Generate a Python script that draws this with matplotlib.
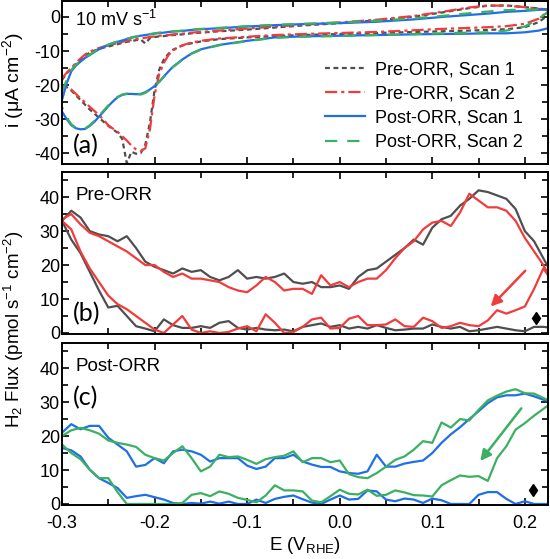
import numpy as np
import matplotlib
matplotlib.use("Agg")
import matplotlib.pyplot as plt
from matplotlib.ticker import MultipleLocator, FormatStrFormatter

plt.rcParams['font.family'] = ['Liberation Sans', 'DejaVu Sans']
plt.rcParams['mathtext.fontset'] = 'custom'
plt.rcParams['mathtext.rm'] = 'Liberation Sans'
plt.rcParams['mathtext.it'] = 'Liberation Sans:italic'
plt.rcParams['axes.unicode_minus'] = False

# ---- (a) cyclic voltammograms, 10 mV/s ----
cv_e = [-0.300, -0.295, -0.290, -0.285, -0.280, -0.275, -0.270, -0.265, -0.260, -0.255,
        -0.250, -0.245, -0.240, -0.235, -0.230, -0.225, -0.220, -0.215, -0.210, -0.205,
        -0.200, -0.195, -0.190, -0.185, -0.180, -0.170, -0.160, -0.150, -0.130, -0.100,
        -0.070, -0.040, 0.000, 0.040, 0.080, 0.110, 0.140, 0.160, 0.180, 0.200, 0.215, 0.225]

pre1_cv_up = [-18.5, -16.6, -15.2, -13.8, -12.5, -11.3, -10.5, -9.9, -9.4, -9.0,
              -8.7, -8.3, -8.0, -7.6, -7.3, -7.1, -6.8, -6.6, -7.8, -6.2,
              -5.9, -5.7, -5.6, -5.5, -5.3, -5.1, -4.8, -4.6, -4.2, -3.7,
              -3.1, -2.5, -1.8, -1.0, 0.1, 1.3, 2.6, 3.3, 3.4, 2.9, 2.5, 2.1]
pre1_cv_dn = [-19.5, -20.6, -21.6, -23.0, -24.4, -25.8, -27.2, -28.4, -29.6, -30.8,
              -32.0, -33.0, -34.0, -35.8, -43.0, -39.6, -40.2, -40.0, -37.5, -31.0,
              -21.5, -15.5, -12.5, -10.8, -9.6, -8.4, -7.7, -7.2, -6.5, -6.0,
              -5.6, -5.3, -5.0, -4.7, -4.4, -4.2, -4.0, -3.8, -3.6, -3.0, -1.5, 0.5]
pre2_cv_up = [-18.0, -16.4, -15.0, -13.5, -12.2, -11.0, -10.2, -9.6, -9.1, -8.7,
              -8.4, -8.0, -7.7, -7.3, -7.0, -6.8, -6.5, -6.3, -6.1, -5.9,
              -5.7, -5.5, -5.4, -5.3, -5.1, -4.9, -4.6, -4.4, -4.0, -3.4,
              -2.8, -2.3, -1.6, -0.8, 0.3, 1.5, 2.8, 3.4, 3.3, 2.9, 2.4, 2.0]
pre2_cv_dn = [-19.5, -20.4, -21.3, -22.6, -23.9, -25.1, -26.4, -27.6, -28.8, -30.3,
              -31.8, -32.8, -33.7, -35.0, -36.3, -37.8, -38.9, -39.4, -38.6, -33.0,
              -23.0, -16.8, -13.5, -11.2, -9.8, -8.3, -7.5, -7.0, -6.3, -5.8,
              -5.3, -5.0, -4.7, -4.4, -3.9, -3.5, -3.2, -3.0, -2.7, -2.0, -0.5, 1.6]
post1_cv_up = [-24.4, -19.5, -16.0, -14.3, -13.1, -12.0, -11.2, -10.3, -9.5, -8.8,
               -8.2, -7.7, -7.3, -6.9, -6.5, -6.1, -5.8, -5.5, -5.3, -5.1,
               -4.9, -4.7, -4.6, -4.4, -4.3, -4.1, -3.8, -3.6, -3.3, -2.8,
               -2.4, -2.1, -1.8, -1.4, -0.7, 0.0, 0.6, 1.0, 1.5, 1.8, 2.1, 2.3]
post1_cv_dn = [-27.8, -30.0, -31.8, -32.7, -33.0, -32.9, -32.0, -30.8, -29.3, -27.8,
               -26.2, -24.8, -23.6, -22.9, -22.6, -22.6, -22.7, -22.6, -22.1, -21.3,
               -20.3, -19.0, -17.5, -16.0, -14.6, -12.5, -10.7, -9.5, -8.2, -7.0,
               -6.0, -5.7, -5.5, -5.3, -5.1, -5.0, -4.9, -4.8, -4.8, -4.5, -4.0, -3.3]
post2_cv_up = [-22.0, -18.5, -15.6, -14.0, -12.9, -11.8, -11.0, -10.2, -9.4, -8.7,
               -8.1, -7.6, -7.2, -6.8, -6.4, -6.0, -5.7, -5.4, -5.2, -5.0,
               -4.8, -4.6, -4.5, -4.3, -4.2, -4.0, -3.7, -3.5, -3.2, -2.7,
               -2.3, -2.0, -1.6, -1.1, -0.4, 0.3, 1.1, 1.6, 2.0, 2.2, 2.2, 2.2]
post2_cv_dn = [-26.5, -29.5, -31.5, -32.6, -33.0, -32.8, -31.8, -30.5, -29.0, -27.5,
               -26.0, -24.6, -23.5, -22.8, -22.5, -22.5, -22.6, -22.8, -22.3, -21.4,
               -20.4, -19.1, -17.6, -16.1, -14.7, -12.6, -10.8, -9.6, -8.3, -7.1,
               -6.1, -5.8, -5.6, -5.3, -5.0, -4.8, -4.6, -4.5, -4.0, -2.8, -0.5, 1.5]

# ---- (b), (c) H2 flux, pmol s-1 cm-2 ----
flux_e = [-0.30, -0.29, -0.28, -0.27, -0.26, -0.25, -0.24, -0.23, -0.22, -0.21,
          -0.20, -0.19, -0.18, -0.17, -0.16, -0.15, -0.14, -0.13, -0.12, -0.11,
          -0.10, -0.09, -0.08, -0.07, -0.06, -0.05, -0.04, -0.03, -0.02, -0.01,
          0.00, 0.01, 0.02, 0.03, 0.04, 0.05, 0.06, 0.07, 0.08, 0.09,
          0.10, 0.11, 0.12, 0.13, 0.14, 0.15, 0.16, 0.17, 0.18, 0.19,
          0.20, 0.21, 0.22, 0.23]

pre1_up = [33, 36, 34, 30, 29, 28.5, 27, 28.5, 25, 21, 19.5, 18.5, 17.5, 19, 18, 18.5, 16.5, 15.5,
           16.5, 18.5, 16, 16.5, 16, 16.5, 17.5, 15, 14.5, 15, 13.5, 13.5, 14, 13, 16.5, 18.5, 19, 21,
           23, 25, 27.5, 26, 31, 33.5, 34.5, 37.5, 39.5, 42, 41.5, 40.5, 39.5, 36.5, 30, 27, 22, 17]
pre1_dn = [33, 27.5, 23.5, 18, 12.5, 7.5, 8, 5, 2, 1.3, 0.5, 4, 2.3, 1.5, 1.5, 2, 1.5, 3,
           3.5, 1.5, 1, 1.5, 1, 0.8, 1, 0.5, 1.8, 2.3, 2.8, 1.8, 2.3, 1.3, 1.8, 1.3, 2.3, 1.5,
           0.8, 1, 1.3, 1.3, 2.5, 1.8, 1.3, 1.8, 0.5, 0.8, 1.3, 1.8, 1.3, 0.8, 0.5, 1.8, 1.8, 1.5]
pre2_up = [33.5, 35, 32, 29.5, 28.5, 27, 25.5, 24, 22, 20, 20, 18, 16.5, 17.5, 16, 16, 15.5, 15,
           13.5, 12.5, 12, 14, 16.5, 15, 12.5, 13, 13, 11.5, 17, 14, 15, 13.5, 15, 16, 16, 18.5,
           22, 25, 27, 30.5, 32.5, 33, 31.5, 35.5, 41, 39, 37, 37, 36, 33, 28, 24, 20, 15]
pre2_dn = [33, 30.5, 24, 19, 15, 11, 8.5, 7, 5, 3, 1, 0, 2.5, 5, 1, 0, 0.5, 0,
           0.3, 1.3, 2, 0.5, 5.5, 3, 0, 0.3, 1.8, 4, 4.5, 1.3, 1.5, 4.2, 5, 2.3, 2.3, 2.5,
           4, 2, 1.8, 4.5, 3.5, 1.5, 2, 3, 2.3, 2, 3.7, 6.7, 5.7, 6.7, 7.8, 13, 19, 15]

post1_up = [21, 23.5, 22, 23, 23, 19.5, 17.5, 15.5, 11, 11.5, 13.5, 12, 15.5, 16, 15.5, 14.5, 12.5, 13.5,
            13.5, 13.5, 11.3, 10.3, 11, 13.5, 13.5, 14.5, 12.5, 11.6, 10.9, 10.9, 9.6, 9.1, 8.9, 9.6, 14.5, 11,
            11, 11.9, 12.4, 12.8, 15, 18, 20.5, 22.6, 25, 27.3, 29.7, 31.4, 32, 32, 32.5, 31.7, 30.7, 30]
post1_dn = [16.5, 15.8, 14, 10.1, 7.6, 6.2, 4.7, 1.8, 2.3, 2.7, 2, 1.3, 0.3, 0, 0.3, 0.1, 0.7, 0.1,
            0.7, 0, 0, 1.3, 0.3, 1.5, 2.1, 2.5, 1.4, 0.4, 0, 1.3, 2.5, 1.3, 1.5, 4, 3.7, 1.3,
            0.8, 1.6, 1.3, 0.3, 1.6, 1.1, 0, 0, 0, 2.7, 3.5, 3.5, 1.5, 0, 0.8, 0, 0, 0]
post2_up = [20, 21.7, 22.4, 21.7, 20.7, 18.7, 18, 17.5, 16.8, 14.5, 13.5, 12.8, 15, 17, 13.5, 9.6, 11, 14.5,
            13.8, 14, 13, 11.8, 13.2, 13.8, 14.2, 15.5, 12.3, 13.5, 13.5, 12.3, 12.8, 8.8, 7.9, 7.6, 9.1, 11,
            13, 14, 16, 18.5, 18, 24, 22.5, 25, 24.6, 27.7, 30.5, 31.9, 33.1, 33.8, 32.6, 32.5, 31.2, 30]
post2_dn = [17.5, 15, 13.2, 10.1, 7.6, 7.6, 3.5, 0, 0, 0, 0, 0, 0, 0.3, 2.7, 3.2, 2.3, 3.7,
            3, 1.8, 1.2, 0.5, 2.5, 5.5, 4, 4, 3.7, 1, 0.5, 2.3, 4.2, 3, 2.8, 4.2, 2.4, 2.7,
            4, 3.4, 2.6, 2.5, 2.2, 5.5, 7, 8.4, 8, 8.2, 6.8, 13.5, 17, 21.9, 23.8, 26, 28, 30]

c_gray = '#4f4f4f'
c_red = '#f23b3b'
c_blue = '#1f6fe8'
c_green = '#3bb062'


def loop(e, up, dn):
    # one closed sweep: upper branch left->right, lower branch right->left
    e = np.asarray(e)
    return np.r_[e, e[::-1]], np.r_[np.asarray(up), np.asarray(dn)[::-1]]


fig = plt.figure(figsize=(5.5, 5.59), dpi=100)
left, width = 62 / 550, 486 / 550
ax_a = fig.add_axes([left, 395 / 559, width, 163 / 559])
ax_b = fig.add_axes([left, 225 / 559, width, 162 / 559])
ax_c = fig.add_axes([left, 54 / 559, width, 162 / 559])

lw = 1.6
x, y = loop(cv_e, pre1_cv_up, pre1_cv_dn)
ax_a.plot(x, y, color=c_gray, lw=lw, dashes=(2.2, 1.6), label='Pre-ORR, Scan 1')
x, y = loop(cv_e, pre2_cv_up, pre2_cv_dn)
ax_a.plot(x, y, color=c_red, lw=lw, dashes=(5.5, 1.8, 1.4, 1.8), label='Pre-ORR, Scan 2')
x, y = loop(cv_e, post1_cv_up, post1_cv_dn)
ax_a.plot(x, y, color=c_blue, lw=lw, label='Post-ORR, Scan 1')
x, y = loop(cv_e, post2_cv_up, post2_cv_dn)
ax_a.plot(x, y, color=c_green, lw=lw, dashes=(5.5, 4.5), label='Post-ORR, Scan 2')

x, y = loop(flux_e, pre1_up, pre1_dn)
ax_b.plot(x, y, color=c_gray, lw=lw)
x, y = loop(flux_e, pre2_up, pre2_dn)
ax_b.plot(x, y, color=c_red, lw=lw)

x, y = loop(flux_e, post1_up, post1_dn)
ax_c.plot(x, y, color=c_blue, lw=lw)
x, y = loop(flux_e, post2_up, post2_dn)
ax_c.plot(x, y, color=c_green, lw=lw)

# sweep direction arrows and markers
ax_b.annotate('', xy=(0.161, 7.2), xytext=(0.2025, 18.9),
              arrowprops=dict(arrowstyle='-|>', color=c_red, lw=1.8, mutation_scale=16))
ax_c.annotate('', xy=(0.150, 12.0), xytext=(0.198, 28.8),
              arrowprops=dict(arrowstyle='-|>', color=c_green, lw=1.8, mutation_scale=16))
ax_b.plot([0.212], [4.4], marker='d', color='black', ms=6, ls='none')
ax_c.plot([0.209], [4.1], marker='d', color='black', ms=6, ls='none')

ax_a.set_ylim(-43.2, 4.7)
ax_b.set_ylim(-0.3, 47.4)
ax_c.set_ylim(-0.3, 47.4)
for ax in (ax_a, ax_b, ax_c):
    ax.set_xlim(-0.3, 0.225)
    ax.xaxis.set_major_locator(MultipleLocator(0.1))
    ax.xaxis.set_minor_locator(MultipleLocator(0.05))
    ax.yaxis.set_major_locator(MultipleLocator(10))
    ax.yaxis.set_minor_locator(MultipleLocator(5))
    ax.tick_params(which='both', direction='in', top=True, right=True,
                   width=1.2, labelsize=13)
    ax.tick_params(which='major', length=5)
    ax.tick_params(which='minor', length=4)
    ax.tick_params(axis='y', pad=1.5)
    ax.tick_params(axis='x', pad=7.5)
    for s in ax.spines.values():
        s.set_linewidth(1.4)
ax_a.tick_params(labelbottom=False)
ax_b.tick_params(labelbottom=False)
ax_c.xaxis.set_major_formatter(FormatStrFormatter('%.1f'))

leg = ax_a.legend(loc='upper left', bbox_to_anchor=(0.541, 0.63), frameon=False,
                  fontsize=13, handlelength=2.2, handletextpad=0.55,
                  labelspacing=0.4, borderpad=0, borderaxespad=0)

ax_a.text(0.027, 0.883, '10 mV s$^{-1}$', transform=ax_a.transAxes, fontsize=13, va='center')
ax_a.text(0.022, 0.11, '(a)', transform=ax_a.transAxes, fontsize=18, va='center', family='Lato')
ax_b.text(0.027, 0.858, 'Pre-ORR', transform=ax_b.transAxes, fontsize=13.5, va='center')
ax_b.text(0.022, 0.123, '(b)', transform=ax_b.transAxes, fontsize=18, va='center', family='Lato')
ax_c.text(0.027, 0.858, 'Post-ORR', transform=ax_c.transAxes, fontsize=13.5, va='center')
ax_c.text(0.022, 0.66, '(c)', transform=ax_c.transAxes, fontsize=18, va='center', family='Lato')

fig.text(13.5 / 550, (559 - 80) / 559, 'i (μA cm$^{-2}$)', rotation=90,
         ha='center', va='center', fontsize=14)
fig.text(13.5 / 550, (559 - 329) / 559, 'H$_2$ Flux (pmol s$^{-1}$ cm$^{-2}$)', rotation=90,
         ha='center', va='center', fontsize=13.5)
fig.text(305 / 550, (559 - 546) / 559, 'E (V$_{\\rm RHE}$)', ha='center', va='center',
         fontsize=13.5)

fig.savefig('out.png', dpi=100)
